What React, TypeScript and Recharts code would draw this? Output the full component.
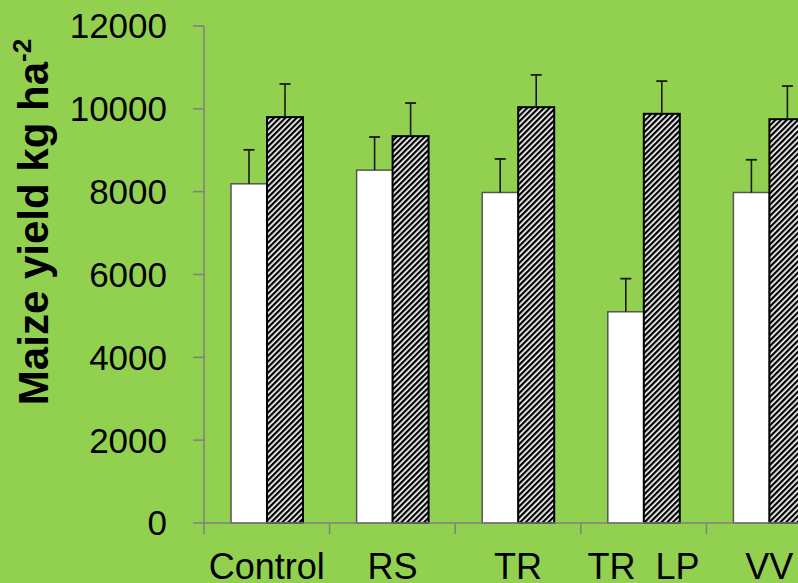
import React from 'react';
import { BarChart, Bar, XAxis, YAxis } from 'recharts';

const categories = ['Control', 'RS', 'TR', 'TR  LP', 'VV'];
const whiteValues = [8190, 8520, 7980, 5100, 7980];
const whiteErrors = [820, 800, 810, 800, 790];
const hatchedValues = [9800, 9340, 10040, 9880, 9750];
const hatchedErrors = [800, 800, 780, 790, 800];
const yTicks = [0, 2000, 4000, 6000, 8000, 10000, 12000];

const data = categories.map((name, i) => ({
  name,
  white: whiteValues[i],
  whiteErr: whiteErrors[i],
  hatched: hatchedValues[i],
  hatchedErr: hatchedErrors[i],
}));

const CHART_W = 832;
const CHART_H = 583;
const Y_AXIS_W = 204;
const X_AXIS_H = 60;
const TICK_LEN = 11;
const AXIS_COLOR = '#7f7f7f';
const FONT = '"Liberation Sans", Arial, sans-serif';
const HALF_BAND = (CHART_W - Y_AXIS_W) / categories.length / 2;

const makeShape = (key: string, errKey: string) => (props: any) => {
  const { x, y, width, height, payload, fill, stroke, strokeWidth } = props;
  const v = payload[key];
  const err = payload[errKey];
  const ppu = v ? height / v : 0;
  const top = y - err * ppu;
  const cx = x + width / 2;
  return (
    <g>
      <rect x={x} y={y} width={width} height={height} fill={fill} stroke={stroke} strokeWidth={strokeWidth} />
      <line x1={cx} y1={y} x2={cx} y2={top} stroke="#1a1a1a" strokeWidth={1.6} />
      <line x1={cx - 5.5} y1={top} x2={cx + 5.5} y2={top} stroke="#1a1a1a" strokeWidth={1.8} />
    </g>
  );
};

const whiteShape = makeShape('white', 'whiteErr');
const hatchedShape = makeShape('hatched', 'hatchedErr');

const XTick = (props: any) => {
  const { x, y, payload } = props;
  const axisY = y - TICK_LEN;
  const bx = x - HALF_BAND;
  return (
    <g>
      <line x1={bx} y1={axisY} x2={bx} y2={axisY + TICK_LEN} stroke={AXIS_COLOR} strokeWidth={1.5} />
      <text
        x={x}
        y={axisY + 56}
        textAnchor="middle"
        fontSize={36}
        fontFamily={FONT}
        fill="#000"
        style={{ whiteSpace: 'pre' }}
      >
        {payload.value}
      </text>
    </g>
  );
};

const YLabel = () => (
  <text
    x={48}
    y={222}
    transform="rotate(-90, 48, 222)"
    textAnchor="middle"
    fontSize={42}
    fontWeight="bold"
    fontFamily={FONT}
    fill="#000"
  >
    Maize yield kg ha
    <tspan fontSize={26} dy={-17}>-2</tspan>
  </text>
);

export default function App() {
  return (
    <div
      style={{
        position: 'fixed',
        left: 0,
        top: 0,
        width: 798,
        height: 583,
        overflow: 'hidden',
        background: '#92D050',
      }}
    >
      <BarChart
        width={CHART_W}
        height={CHART_H}
        data={data}
        margin={{ top: 26, right: 0, bottom: 0, left: 0 }}
        barGap={0}
        barCategoryGap={27}
      >
        <defs>
          <pattern id="hatch" patternUnits="userSpaceOnUse" width={4} height={4} patternTransform="rotate(45)">
            <rect x={0} y={0} width={4} height={4} fill="#fff" />
            <rect x={0} y={0} width={2.3} height={4} fill="#000" />
          </pattern>
        </defs>
        <XAxis
          dataKey="name"
          height={X_AXIS_H}
          interval={0}
          tickLine={false}
          tickSize={TICK_LEN}
          tickMargin={0}
          axisLine={{ stroke: AXIS_COLOR, strokeWidth: 1.5 }}
          tick={<XTick />}
        />
        <YAxis
          width={Y_AXIS_W}
          domain={[0, 12000]}
          ticks={yTicks}
          interval={0}
          tickSize={TICK_LEN}
          tickMargin={26}
          axisLine={{ stroke: AXIS_COLOR, strokeWidth: 1.5 }}
          tickLine={{ stroke: AXIS_COLOR, strokeWidth: 1.5 }}
          tick={{ fontSize: 35, fontFamily: FONT, fill: '#000' }}
          label={<YLabel />}
        />
        <Bar
          dataKey="white"
          fill="#ffffff"
          stroke="#555555"
          strokeWidth={1.5}
          isAnimationActive={false}
          shape={whiteShape}
        />
        <Bar
          dataKey="hatched"
          fill="url(#hatch)"
          stroke="#000000"
          strokeWidth={2}
          isAnimationActive={false}
          shape={hatchedShape}
        />
      </BarChart>
    </div>
  );
}
